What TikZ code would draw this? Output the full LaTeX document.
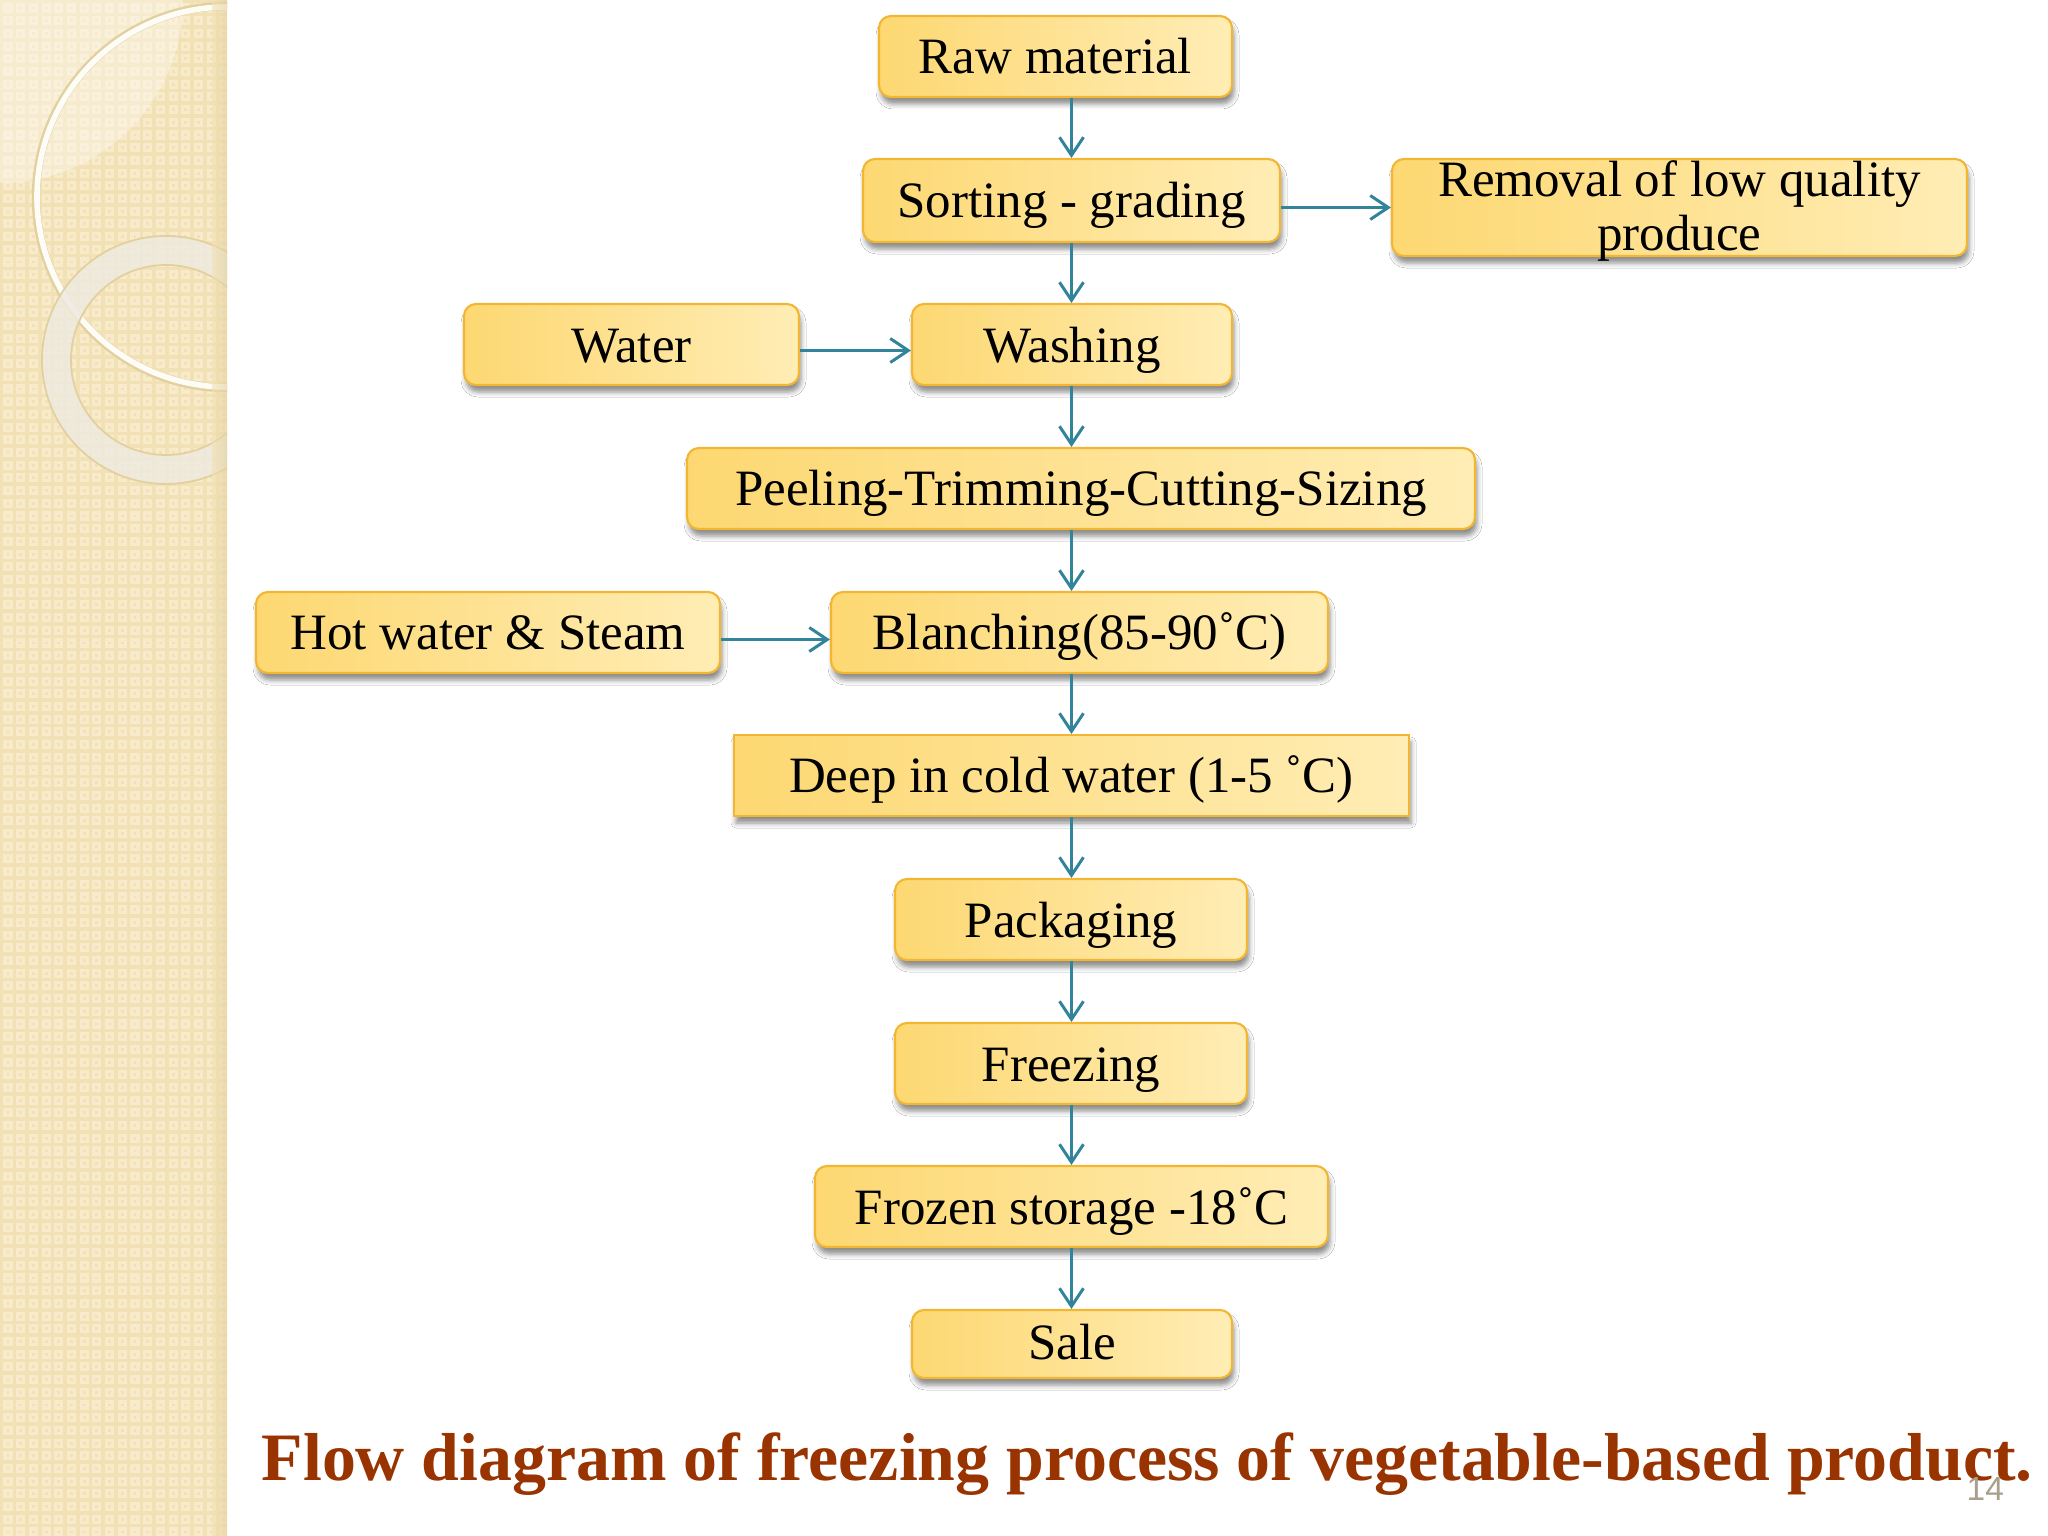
\documentclass[tikz,border=0pt]{standalone}
\usepackage{fontspec}
\setmainfont{Liberation Serif}
\newfontfamily\pagenumfont{Liberation Sans}
\usepackage{tikz}
\usetikzlibrary{arrows,arrows.meta}
\usepackage{xcolor}
\usetikzlibrary{shapes}
\usetikzlibrary{shadows,shadows.blur}
\usetikzlibrary{calc}
\definecolor{panelbeige}{HTML}{F2E1B4}
\definecolor{panellight}{HTML}{F8EBCB}
\definecolor{paneledge}{HTML}{E2D09E}
\definecolor{ringgrey}{HTML}{EEEAE0}
\definecolor{boxgold}{HTML}{FDD872}
\definecolor{boxcream}{HTML}{FFEDB5}
\definecolor{boxborder}{HTML}{F2B632}
\definecolor{arrowteal}{HTML}{31849B}
\definecolor{titlebrown}{HTML}{993300}
\definecolor{pagegrey}{HTML}{A8A08A}
\tikzstyle{boxbase}=[draw=boxborder, line width=0.6pt, left color=boxgold, right color=boxcream, inner xsep=0pt, font=\fontsize{14.5pt}{15.6pt}\selectfont, blur shadow={shadow xshift=0.02cm, shadow yshift=-0.07cm, shadow blur radius=0.05cm, shadow opacity=45}]
\tikzstyle{procbox}=[boxbase, rounded corners=0.12cm, minimum height=0.81cm, text height=0.42cm, text depth=0.07cm]
\tikzstyle{squarebox}=[boxbase, sharp corners, minimum height=0.81cm, text height=0.42cm, text depth=0.07cm]
\tikzstyle{notebox}=[boxbase, rounded corners=0.12cm, align=center, inner ysep=0pt, text height=0.92cm, text depth=0.05cm]
\tikzstyle{flowarrow}=[draw=arrowteal, line width=0.85pt, -{Straight Barb[length=0.18cm, width=0.24cm]}]

\begin{document}
\begin{tikzpicture}
		\useasboundingbox (0,0) rectangle (20.48,-15.36);
		\fill[white] (0,0) rectangle (20.48,-15.36);
		\begin{scope}
			\clip (0,0) rectangle (2.27,-15.36);
			\fill[panelbeige] (0,0) rectangle (2.27,-15.36);
			\foreach \i in {0,...,17}
				\foreach \j in {0,...,121}
					\draw[panellight, line width=0.9pt] ({0.05+0.127*\i},{-0.05-0.127*\j}) rectangle +(0.06,-0.06);
			\fill[white, opacity=0.35] (0,0) -- (1.83,0) arc (0:-90:1.83) -- cycle;
			\draw[paneledge, line width=2.4pt] (2.27,-1.97) circle (1.91);
			\draw[white!85!panellight, line width=1.6pt] (2.27,-1.97) circle (1.90);
			\fill[ringgrey, opacity=0.85, even odd rule] (1.66,-3.60) circle (1.24) (1.66,-3.60) circle (0.95);
			\draw[paneledge, line width=0.5pt] (1.66,-3.60) circle (1.24) (1.66,-3.60) circle (0.95);
			\shade[left color=panelbeige, right color=paneledge, opacity=0.6] (2.12,0) rectangle (2.27,-15.36);
		\end{scope}
		\coordinate (axis) at (10.715,0);
		\node[procbox, minimum width=3.53cm] (raw) at (10.555,-0.565) {Raw material};
		\node[procbox, minimum width=4.17cm, minimum height=0.83cm] (sort) at (10.715,-2.005) {Sorting - grading};
		\node[notebox, minimum width=5.75cm] (removal) at (16.795,-2.075) {Removal of low quality\\produce};
		\node[procbox, minimum width=3.35cm] (water) at (6.315,-3.445) {Water};
		\node[procbox, minimum width=3.20cm] (wash) at (10.72,-3.445) {Washing};
		\node[procbox, minimum width=7.88cm] (peel) at (10.81,-4.885) {Peeling-Trimming-Cutting-Sizing};
		\node[procbox, minimum width=4.64cm] (hot) at (4.88,-6.325) {Hot water \& Steam};
		\node[procbox, minimum width=4.97cm] (blanch) at (10.795,-6.325) {Blanching(85-90˚C)};
		\node[squarebox, minimum width=6.75cm] (deep) at (10.715,-7.755) {Deep in cold water (1-5 ˚C)};
		\node[procbox, minimum width=3.52cm] (pack) at (10.71,-9.195) {Packaging};
		\node[procbox, minimum width=3.52cm] (freeze) at (10.71,-10.635) {Freezing};
		\node[procbox, minimum width=5.13cm] (frozen) at (10.715,-12.065) {Frozen storage -18˚C};
		\node[procbox, minimum width=3.20cm, minimum height=0.68cm, text height=0.36cm, text depth=0.05cm] (sale) at (10.72,-13.44) {Sale};
		\draw[flowarrow] (raw.south -| axis) -- (sort.north -| axis);
		\draw[flowarrow] (sort.east |- removal.west) -- (removal.west);
		\draw[flowarrow] (sort.south -| axis) -- (wash.north -| axis);
		\draw[flowarrow] ($(water.east)+(0,-0.06)$) -- ($(wash.west)+(0,-0.06)$);
		\draw[flowarrow] (wash.south -| axis) -- (peel.north -| axis);
		\draw[flowarrow] (peel.south -| axis) -- (blanch.north -| axis);
		\draw[flowarrow] ($(hot.east)+(0,-0.07)$) -- ($(blanch.west)+(0,-0.07)$);
		\draw[flowarrow] (blanch.south -| axis) -- (deep.north -| axis);
		\draw[flowarrow] (deep.south -| axis) -- (pack.north -| axis);
		\draw[flowarrow] (pack.south -| axis) -- (freeze.north -| axis);
		\draw[flowarrow] (freeze.south -| axis) -- (frozen.north -| axis);
		\draw[flowarrow] (frozen.south -| axis) -- (sale.north -| axis);
		\node[anchor=base west, inner sep=0pt, text=titlebrown, font=\fontsize{19.3pt}{22pt}\selectfont\bfseries] (title) at (2.61,-14.80) {Flow diagram of freezing process of vegetable-based product.};
		\node[anchor=base west, inner sep=0pt, text=pagegrey, font=\pagenumfont\fontsize{9.5pt}{11pt}\selectfont] (pagenum) at (19.66,-15.00) {14};
	\end{tikzpicture}
\end{document}
